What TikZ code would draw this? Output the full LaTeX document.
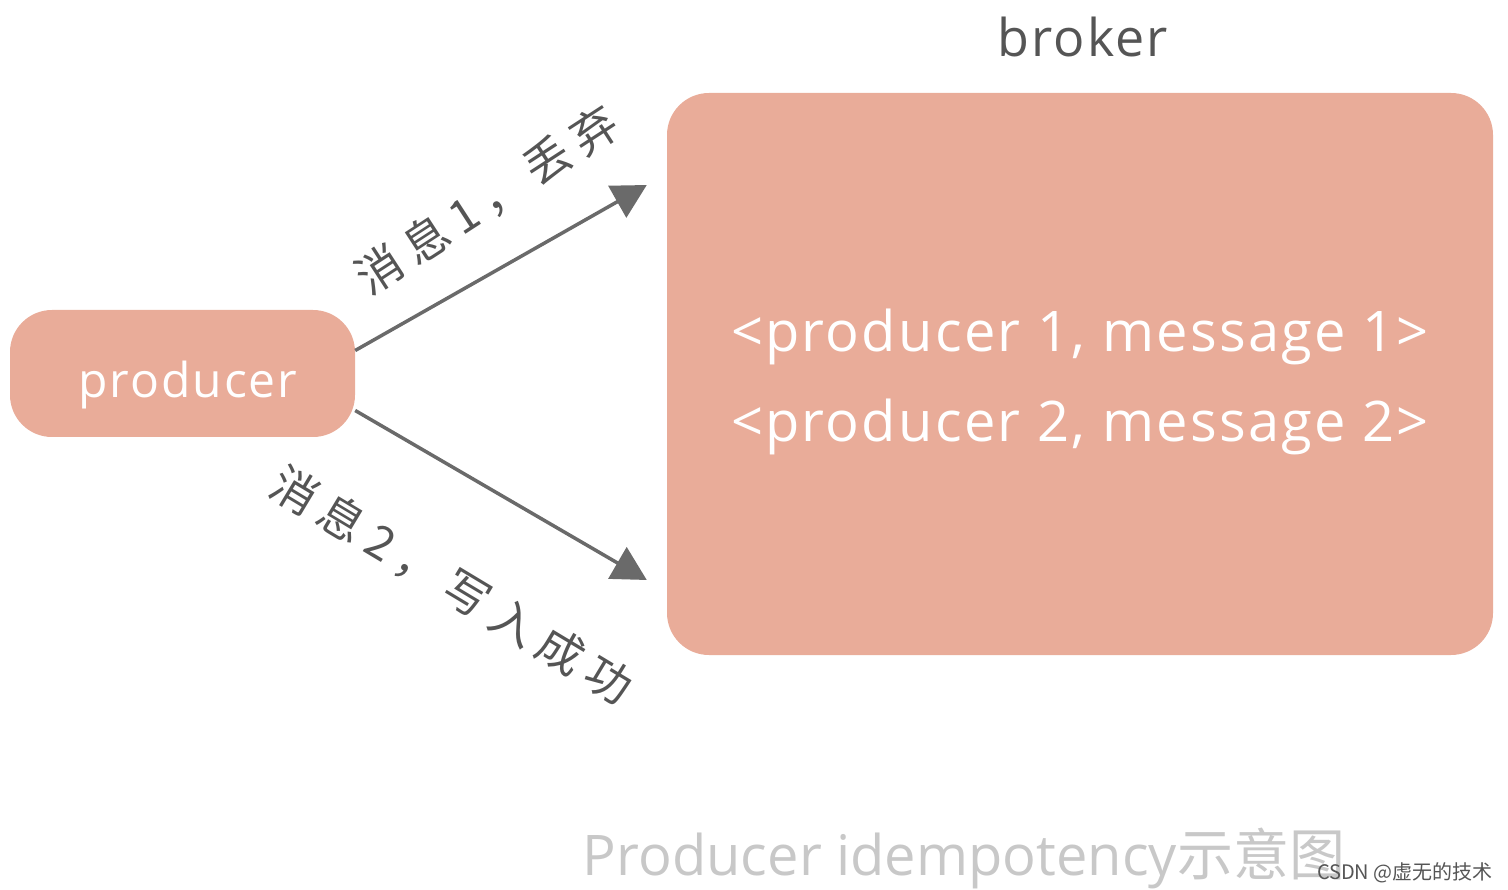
\documentclass[tikz,border=0pt]{standalone}
\usepackage{fontspec}
\setmainfont{Open Sans}
\newfontfamily\cjk{Noto Sans CJK SC}
\newfontfamily\cjkwide[LetterSpace=20]{Noto Sans CJK SC}
\newfontfamily\latwide[LetterSpace=4]{Open Sans}
\usetikzlibrary{arrows.meta,calc}
\definecolor{boxfill}{HTML}{E9AC99}
\definecolor{arrowgray}{HTML}{6A6A6A}
\definecolor{labelgray}{HTML}{555555}
\definecolor{captiongray}{HTML}{C8C8C8}
\begin{document}
\begin{tikzpicture}[x=1pt,y=-1pt,
  box/.style={fill=boxfill, draw=none, rounded corners=42pt, inner sep=0pt},
  boxtext/.style={text=white, font=\latwide\fontsize{48}{56}\selectfont, inner sep=0pt},
  conn/.style={draw=arrowgray, line width=3.5pt, -{Triangle[length=34pt,width=36pt]}},
  edgelabel/.style={text=labelgray, font=\cjkwide\fontsize{46}{52}\selectfont, inner sep=0pt}]
\useasboundingbox (0,0) rectangle (1508,890);
\node[box, minimum width=345pt, minimum height=127pt] (producer) at (182.5,373.5) {};
\node[boxtext, anchor=base] (ptext) at (188,398) {producer};
\node[box, minimum width=826pt, minimum height=562pt] (broker) at (1080,374) {};
\node[text=labelgray, font=\latwide\fontsize{52}{56}\selectfont, anchor=base] (brokerlabel) at (1083,57) {broker};
\node[boxtext, align=center, font=\latwide\fontsize{56}{90}\selectfont, anchor=base] (msgs) at (1080,442) {<producer 1, message 1>\\<producer 2, message 2>};
\coordinate (t1) at ([xshift=-20pt,yshift=189pt]broker.west);
\coordinate (t2) at ([xshift=-20pt,yshift=-206pt]broker.west);
\draw[conn] ([yshift=23pt]producer.east) -- (t1);
\draw[conn] ([yshift=-37pt]producer.east) -- (t2);
\node[edgelabel, rotate=33] (l1) at (487,200) {消息1，丢弃};
\node[edgelabel, rotate=-31] (l2) at (452,585) {消息2，写入成功};
\node[text=captiongray, font=\fontsize{56}{60}\selectfont, anchor=base] (caption) at (964,875) {Producer idempotency{\cjk 示意图}};
\node[text=labelgray, font=\cjk\fontsize{20}{22}\selectfont, anchor=base east, inner sep=0pt] (wm) at (1493,879) {CSDN @虚无的技术};
\end{tikzpicture}
\end{document}
